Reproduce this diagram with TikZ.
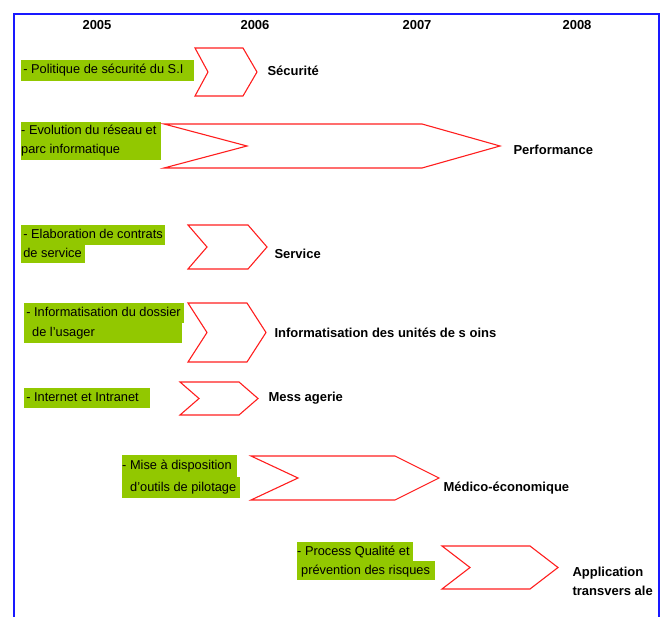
\documentclass[tikz,border=0pt]{standalone}
\usepackage{fontspec}
\setmainfont{Liberation Sans}
\definecolor{hlgreen}{RGB}{146,200,0}
\definecolor{framblue}{RGB}{25,25,255}
\definecolor{chevred}{RGB}{255,30,30}

% highlighted text line: name, x, y (centre), fill width, fill height, text
\newcommand\hlline[6]{%
  \node[hl, minimum height=#5] (#1) at (#2,#3) {\makebox[#4pt][l]{#6}};}
% chevron: left x, notch x, top-right x, tip x, top y, bottom y
\newcommand\chevronshape[6]{%
  \draw[chev] (#1,#5) -- (#3,#5) -- (#4,{(#5+#6)/2}) -- (#3,#6) -- (#1,#6)
    -- (#2,{(#5+#6)/2}) -- cycle;}

\tikzset{
  hl/.style={fill=hlgreen, anchor=west, inner xsep=0pt, inner ysep=0pt,
    text height=9.5pt, text depth=2.5pt, font=\fontsize{12.8}{15}\selectfont},
  chev/.style={draw=chevred, line width=1.1pt, line join=miter},
  year/.style={font=\bfseries\fontsize{13}{15}\selectfont},
  goal/.style={anchor=west, align=left,
    font=\bfseries\fontsize{13}{19}\selectfont},
}

\begin{document}
\begin{tikzpicture}[x=1pt,y=-1pt]
\useasboundingbox (0,0) rectangle (663,617);

% open frame
\draw[framblue, line width=2pt] (14,620) -- (14,14) -- (659,14) -- (659,620);

% years
\node[year] (y2005) at (97,25) {2005};
\node[year] (y2006) at (255,25) {2006};
\node[year] (y2007) at (417,25) {2007};
\node[year] (y2008) at (577,25) {2008};

% actions
\hlline{a1}{21}{70.5}{173}{21}{\,- Politique de sécurité du S.I}
\hlline{a2a}{21}{131.5}{140}{19}{- Evolution du réseau et}
\hlline{a2b}{21}{150.5}{140}{19}{parc informatique}
\hlline{a3a}{21}{235}{144}{20}{\,- Elaboration de contrats}
\hlline{a3b}{21}{254}{64}{18}{\,de service}
\hlline{a4a}{24}{313}{160}{20}{\,- Informatisation du dossier}
\hlline{a4b}{24}{333}{158}{20}{\hspace{8pt}de l'usager}
\hlline{a5}{24}{398}{126}{20}{\,- Internet et Intranet}
\hlline{a6a}{122}{466}{115}{22}{- Mise à disposition}
\hlline{a6b}{122}{487.5}{118}{21}{\hspace{8pt}d'outils de pilotage}
\hlline{a7a}{297}{551.5}{116}{19}{- Process Qualité et}
\hlline{a7b}{297}{570.5}{138}{19}{\hspace{4pt}prévention des risques}

% chevrons
\chevronshape{195}{208}{243}{257}{48}{96}
\chevronshape{164}{247}{422}{500}{124}{168}
\chevronshape{188}{207}{248}{267}{225}{269}
\chevronshape{188}{207}{247}{266}{303}{362}
\chevronshape{180}{199}{239}{258}{382}{415}
\chevronshape{251}{298}{395}{439}{456}{500}
\chevronshape{442}{470}{530}{558}{546}{589}

% goals
\node[goal] (g1) at (264,71) {Sécurité};
\node[goal] (g2) at (510,150) {Performance};
\node[goal] (g3) at (271,254) {Service};
\node[goal] (g4) at (271,333) {Informatisation des unités de s oins};
\node[goal] (g5) at (265,398) {Mess agerie};
\node[goal] (g6) at (440,488) {Médico-économique};
\node[goal] (g7) at (569,581) {Application\\transvers ale};
\end{tikzpicture}
\end{document}
